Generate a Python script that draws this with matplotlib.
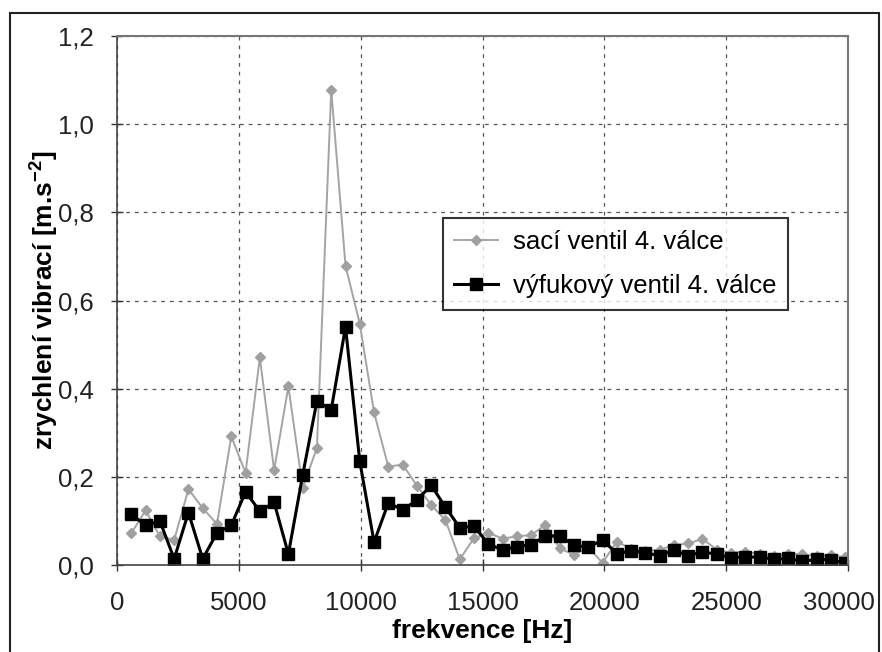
import numpy as np
import matplotlib
matplotlib.use("Agg")
from matplotlib import pyplot as plt
from matplotlib.ticker import FuncFormatter, MultipleLocator
from matplotlib.patches import Rectangle

plt.rcParams['font.family'] = ['Liberation Sans', 'DejaVu Sans']
plt.rcParams['mathtext.default'] = 'regular'

# frekvencni body (krok ~586 Hz)
freq = np.arange(1, 52) * 586

# saci ventil 4. valce
saci = [0.072, 0.124, 0.065, 0.057, 0.172, 0.129, 0.093, 0.292, 0.209, 0.471,
        0.215, 0.405, 0.175, 0.266, 1.078, 0.679, 0.547, 0.346, 0.223, 0.228,
        0.180, 0.136, 0.102, 0.013, 0.061, 0.073, 0.060, 0.065, 0.068, 0.091,
        0.038, 0.023, 0.040, 0.005, 0.053, 0.037, 0.032, 0.035, 0.045, 0.049,
        0.059, 0.035, 0.028, 0.030, 0.025, 0.020, 0.025, 0.025, 0.020, 0.022,
        0.018]

# vyfukovy ventil 4. valce
vyfuk = [0.115, 0.090, 0.100, 0.014, 0.119, 0.014, 0.073, 0.090, 0.166, 0.122,
         0.142, 0.025, 0.204, 0.372, 0.352, 0.540, 0.235, 0.052, 0.141, 0.125,
         0.147, 0.181, 0.131, 0.085, 0.088, 0.048, 0.034, 0.042, 0.046, 0.066,
         0.066, 0.045, 0.040, 0.057, 0.026, 0.032, 0.028, 0.021, 0.034, 0.021,
         0.030, 0.024, 0.017, 0.018, 0.018, 0.013, 0.015, 0.008, 0.013, 0.012,
         0.004]

XMAX = 30000
TICK_FS = 18.5
XPAD = 14

fig = plt.figure(figsize=(8.82, 6.52), dpi=100)
ax = fig.add_axes([0.1327, 0.1334, 0.8288, 0.8114])

# ramecek kolem celeho obrazku
fig.patches.append(Rectangle((10/882, -0.05), 869/882, 1.05 - 13/652,
                             transform=fig.transFigure, fill=False,
                             edgecolor='#222222', linewidth=1.5))

ax.plot(freq, saci, color='#a4a4a4', linewidth=1.4, marker='D',
        markersize=5.5, markerfacecolor='#a0a0a0', markeredgecolor='#a0a0a0',
        label='sací ventil 4. válce')
ax.plot(freq, vyfuk, color='black', linewidth=2.2, marker='s',
        markersize=8, markerfacecolor='black', markeredgecolor='black',
        label='výfukový ventil 4. válce')

ax.set_xlim(0, XMAX)
ax.set_ylim(0, 1.2)
ax.xaxis.set_major_locator(MultipleLocator(5000))
ax.yaxis.set_major_locator(MultipleLocator(0.2))
# posledni popisek se kresli zvlast, trochu posunuty doleva
ax.xaxis.set_major_formatter(FuncFormatter(lambda v, p: '' if v >= XMAX else '%d' % v))
ax.yaxis.set_major_formatter(FuncFormatter(lambda v, p: ('%.1f' % v).replace('.', ',')))
ax.tick_params(direction='inout', length=9, width=1, colors='#333333',
               labelsize=TICK_FS, labelcolor='#222222')
ax.tick_params(axis='x', pad=XPAD)
ax.tick_params(axis='y', pad=12)

ax.annotate('%d' % XMAX, xy=(1, 0), xycoords='axes fraction',
            xytext=(-9, -(4.5 + XPAD) * 100 / 72), textcoords='offset pixels',
            ha='center', va='top', fontsize=TICK_FS, color='#222222')

ax.grid(True, color='#555555', linestyle=(0, (3, 4)), linewidth=0.9)
ax.set_axisbelow(True)

for s in ['left', 'bottom']:
    ax.spines[s].set_color('#444444')
    ax.spines[s].set_linewidth(1.2)
for s in ['top', 'right']:
    ax.spines[s].set_color('#777777')
    ax.spines[s].set_linewidth(1.5)

ax.set_xlabel('frekvence [Hz]', fontsize=19, fontweight='bold', labelpad=3)
ax.set_ylabel('zrychlení vibrací [m.s$^{-2}$]', fontsize=19, fontweight='bold',
              labelpad=-2)

leg = ax.legend(loc='upper left', bbox_to_anchor=(0.428, 0.68), fontsize=18.5,
                frameon=True, fancybox=False, edgecolor='black',
                handlelength=1.7, handletextpad=0.6, borderpad=0.45,
                labelspacing=0.8)
leg.get_frame().set_linewidth(1.5)

fig.savefig('out.png', dpi=100)
